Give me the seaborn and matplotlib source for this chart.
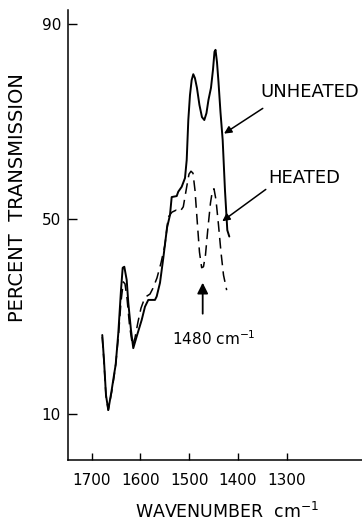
import matplotlib
matplotlib.use("Agg")
import matplotlib.pyplot as plt
import seaborn as sns
import pandas as pd

# ---- data ----
unheated_x = [1678.3, 1674.8, 1670.7, 1666.0, 1659.0, 1653.6, 1650.8, 1645.4, 1639.9, 1636.4,
              1633.1, 1628.2, 1624.9, 1619.4, 1614.7, 1607.7, 1597.4, 1590.7, 1583.9, 1570.2,
              1566.7, 1559.9, 1553.1, 1545.5, 1539.4, 1535.9, 1525.6, 1522.4, 1515.4, 1508.6,
              1505.1, 1501.8, 1498.4, 1494.9, 1491.6, 1488.2, 1484.1, 1479.0, 1473.8, 1469.0,
              1464.6, 1460.5, 1455.3, 1451.2, 1448.1, 1446.0, 1443.0, 1439.9, 1435.8, 1431.3,
              1426.6, 1421.8, 1417.7]
unheated_y = [26.2, 21.1, 13.9, 10.8, 14.9, 18.4, 20.1, 26.6, 35.4, 40.0,
              40.2, 37.5, 32.8, 27.2, 23.5, 25.9, 29.3, 32.0, 33.4, 33.4,
              34.1, 36.9, 42.0, 48.2, 50.8, 54.5, 54.7, 55.6, 56.6, 58.4,
              62.1, 70.3, 75.4, 78.5, 79.7, 78.9, 76.9, 73.4, 70.9, 70.3,
              71.7, 74.4, 76.9, 80.6, 84.3, 84.7, 82.2, 78.1, 71.9, 66.2,
              55.9, 47.7, 46.4]

heated_x = [1678.3, 1674.8, 1670.7, 1666.0, 1659.0, 1653.6, 1650.2, 1645.0, 1639.9, 1635.2,
            1631.7, 1627.6, 1622.5, 1616.3, 1611.2, 1605.0, 1598.9, 1592.7, 1586.6, 1580.4,
            1574.3, 1566.1, 1557.8, 1549.7, 1542.9, 1535.3, 1527.1, 1518.9, 1512.1, 1505.1,
            1500.4, 1496.3, 1492.2, 1488.1, 1483.0, 1478.9, 1474.4, 1470.7, 1466.6, 1461.5,
            1456.3, 1452.2, 1449.1, 1445.0, 1439.9, 1434.8, 1429.6, 1423.1]
heated_y = [25.8, 20.7, 13.7, 10.8, 14.5, 18.0, 20.7, 26.2, 33.0, 37.1,
            36.7, 33.8, 28.3, 24.0, 25.6, 28.9, 31.7, 33.4, 34.2, 34.6,
            35.8, 37.9, 41.0, 44.7, 50.4, 51.4, 51.8, 51.5, 52.5, 56.6,
            59.2, 59.8, 59.4, 55.9, 48.8, 43.2, 40.0, 40.2, 42.6, 48.2,
            53.3, 55.9, 56.2, 53.9, 48.8, 43.2, 38.5, 35.4]

x_ticks = [1700, 1600, 1500, 1400, 1300]
y_ticks = [10, 50, 90]

df_u = pd.DataFrame({"wavenumber": unheated_x, "transmission": unheated_y})
df_h = pd.DataFrame({"wavenumber": heated_x, "transmission": heated_y})

sns.set_style("ticks")
plt.rcParams["font.family"] = ["DejaVu Sans"]

fig = plt.figure(figsize=(3.62, 5.24), dpi=100)
ax = fig.add_axes([68 / 362, 1 - 460 / 524, 294 / 362, 450 / 524])

sns.lineplot(data=df_u, x="wavenumber", y="transmission", sort=False, estimator=None,
             color="black", lw=1.4, ax=ax)
sns.lineplot(data=df_h, x="wavenumber", y="transmission", sort=False, estimator=None,
             color="black", lw=1.1, ls=(0, (7, 4)), ax=ax)

ax.set_xlim(1748.6, 1145.5)
ax.set_ylim(0.56, 92.87)
ax.set_xticks(x_ticks)
ax.set_xticklabels([str(v) for v in x_ticks])
ax.set_yticks(y_ticks)
ax.set_yticklabels([str(v) for v in y_ticks])

for s in ["top", "right"]:
    ax.spines[s].set_visible(False)
for s in ["left", "bottom"]:
    ax.spines[s].set_linewidth(1.1)
    ax.spines[s].set_color("black")

ax.tick_params(axis="y", direction="in", length=6.5, width=1.0, pad=5, labelsize=11, colors="black")
ax.tick_params(axis="x", direction="in", length=4.8, width=1.0, pad=9.4, labelsize=11, colors="black")

ax.set_xlabel("WAVENUMBER  cm$^{-1}$", fontsize=12.5, color="black")
ax.xaxis.set_label_coords(0.541, -0.094)
ax.set_ylabel("PERCENT  TRANSMISSION", fontsize=14, color="black")
ax.yaxis.set_label_coords(-0.139, 0.584)

# annotations
ax.text(1354.8, 76.05, "UNHEATED", fontsize=13, ha="left", va="center", color="black")
ax.annotate("", xy=(1433.3, 67.2), xytext=(1344.3, 73.0),
            arrowprops=dict(arrowstyle="-|>", color="black", lw=1.1, mutation_scale=11))
ax.text(1338.3, 58.4, "HEATED", fontsize=13, ha="left", va="center", color="black")
ax.annotate("", xy=(1436.8, 49.2), xytext=(1338.3, 56.4),
            arrowprops=dict(arrowstyle="-|>", color="black", lw=1.1, mutation_scale=11))
ax.annotate("", xy=(1472.3, 37.5), xytext=(1472.3, 30.0),
            arrowprops=dict(arrowstyle="-|>", color="black", lw=1.3, mutation_scale=16))
ax.text(1449.1, 25.4, "1480 cm$^{-1}$", fontsize=11, ha="center", va="center", color="black")

ax.set_facecolor("white")
fig.patch.set_facecolor("white")
fig.savefig("out.png", dpi=100)
